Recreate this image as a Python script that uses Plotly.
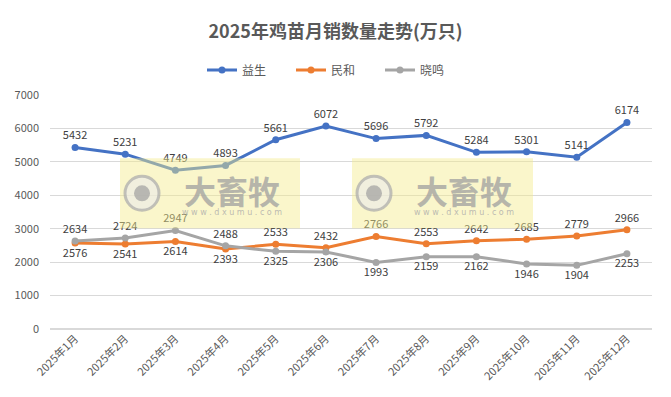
import plotly.graph_objects as go

categories = ["2025年1月", "2025年2月", "2025年3月", "2025年4月", "2025年5月", "2025年6月",
              "2025年7月", "2025年8月", "2025年9月", "2025年10月", "2025年11月", "2025年12月"]
yisheng = [5432, 5231, 4749, 4893, 5661, 6072, 5696, 5792, 5284, 5301, 5141, 6174]
minhe = [2576, 2541, 2614, 2393, 2533, 2432, 2766, 2553, 2642, 2685, 2779, 2966]
xiaoming = [2634, 2724, 2947, 2488, 2325, 2306, 1993, 2159, 2162, 1946, 1904, 2253]
y_ticks = [0, 1000, 2000, 3000, 4000, 5000, 6000, 7000]

FONT = "Noto Sans CJK SC, Microsoft YaHei, sans-serif"
TXT = "#404040"

minhe_pos = ["top center" if m >= x else "bottom center" for m, x in zip(minhe, xiaoming)]
xiaoming_pos = ["top center" if x > m else "bottom center" for m, x in zip(minhe, xiaoming)]

fig = go.Figure()
fig.add_trace(go.Scatter(x=categories, y=yisheng, name="益生", mode="lines+markers+text",
                         line=dict(color="#4472C4", width=3), marker=dict(size=7, color="#4472C4"),
                         text=[str(v) for v in yisheng], textposition="top center",
                         textfont=dict(size=11, color=TXT, family=FONT), cliponaxis=False))
fig.add_trace(go.Scatter(x=categories, y=minhe, name="民和", mode="lines+markers+text",
                         line=dict(color="#ED7D31", width=3), marker=dict(size=7, color="#ED7D31"),
                         text=[str(v) for v in minhe], textposition=minhe_pos,
                         textfont=dict(size=11, color=TXT, family=FONT), cliponaxis=False))
fig.add_trace(go.Scatter(x=categories, y=xiaoming, name="晓鸣", mode="lines+markers+text",
                         line=dict(color="#A5A5A5", width=3), marker=dict(size=7, color="#A5A5A5"),
                         text=[str(v) for v in xiaoming], textposition=xiaoming_pos,
                         textfont=dict(size=11, color=TXT, family=FONT), cliponaxis=False))

PL, PR, PT, PB = 50, 652, 94.5, 329


def px(x):
    return (x - PL) / (PR - PL)


def py(y):
    return (PB - y) / (PB - PT)


shapes = []
annotations = []
for x0, x1 in [(120, 300), (352, 533)]:
    shapes.append(dict(type="rect", xref="paper", yref="paper",
                       x0=px(x0), x1=px(x1), y0=py(228), y1=py(158),
                       fillcolor="rgba(245,236,140,0.45)", line=dict(width=0), layer="above"))
    cx = x0 + 22
    shapes.append(dict(type="circle", xref="paper", yref="paper",
                       x0=px(cx - 17), x1=px(cx + 17), y0=py(210), y1=py(176),
                       fillcolor="rgba(235,235,235,0.6)", line=dict(color="rgba(170,170,170,0.7)", width=3),
                       layer="above"))
    shapes.append(dict(type="circle", xref="paper", yref="paper",
                       x0=px(cx - 8), x1=px(cx + 8), y0=py(201), y1=py(185),
                       fillcolor="rgba(160,160,160,0.7)", line=dict(width=0), layer="above"))
    annotations.append(dict(text="<b>大畜牧</b>", xref="paper", yref="paper",
                            x=px(x0 + 112), y=py(190), xanchor="center", yanchor="middle",
                            showarrow=False, font=dict(size=32, color="rgba(160,160,160,0.75)", family=FONT)))
    annotations.append(dict(text="w w w . d x u m u . c o m", xref="paper", yref="paper",
                            x=px(x0 + 112), y=py(212), xanchor="center", yanchor="middle",
                            showarrow=False, font=dict(size=8, color="rgba(170,170,170,0.8)", family="DejaVu Sans")))

fig.update_layout(
    width=671, height=397,
    margin=dict(l=PL, r=671 - PR, t=PT, b=397 - PB, autoexpand=False),
    paper_bgcolor="white", plot_bgcolor="white",
    font=dict(family=FONT, color="#595959", size=11),
    title=dict(text="<b>2025年鸡苗月销数量走势(万只)</b>", x=0.5, xanchor="center", xref="container",
               y=1 - 32 / 397, yanchor="middle", font=dict(size=18, color="#595959", family=FONT)),
    legend=dict(orientation="h", x=0.5, xanchor="center", xref="container",
                y=1 - 70 / 397, yref="container", yanchor="middle",
                font=dict(size=12, color="#595959"), itemwidth=30,
                entrywidth=44, entrywidthmode="pixels", traceorder="normal"),
    showlegend=True,
    shapes=shapes,
    annotations=annotations,
)
fig.update_xaxes(type="category", range=[-0.5, len(categories) - 0.5], autorange=False,
                 tickangle=-45, showgrid=False, showline=False, ticks="",
                 automargin=False, tickfont=dict(size=11, color="#595959"))
fig.update_yaxes(range=[0, 7000], autorange=False, tickvals=y_ticks, showgrid=True, gridcolor="#D9D9D9",
                 gridwidth=1, zeroline=True, zerolinecolor="#D9D9D9", showline=False, ticks="", ticklen=0,
                 ticklabelstandoff=10, automargin=False, tickfont=dict(size=11, color="#595959"))

fig.write_html("out.html", config={"displayModeBar": False},
               post_script="document.body.style.margin='0';document.body.style.overflow='hidden';")
